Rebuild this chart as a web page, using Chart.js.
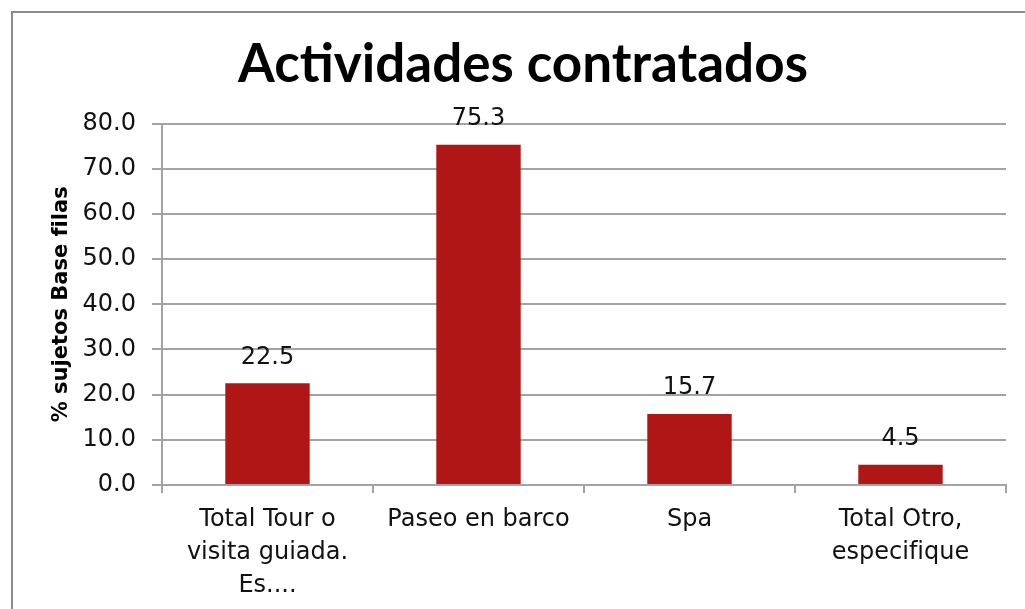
<!DOCTYPE html>
<html lang="es">
<head>
  <meta charset="UTF-8" />
  <title>Actividades contratados</title>
  <script src="https://cdn.jsdelivr.net/npm/chart.js"></script>
  <style>
    body { margin: 0; padding: 0; background: #fff; }
    .wrap { position: relative; width: 1025px; height: 609px; overflow: hidden; }
    canvas { display: block; }
  </style>
</head>
<body>
  <div class="wrap">
    <canvas id="chart" width="1025" height="609"></canvas>
  </div>
  <script>
    // Data
    const categories = [
      ['Total Tour o', 'visita guiada.', 'Es....'],
      'Paseo en barco',
      'Spa',
      ['Total Otro,', 'especifique']
    ];
    const values = [22.5, 75.3, 15.7, 4.5];
    const yTicks = [0, 10, 20, 30, 40, 50, 60, 70, 80];

    const FONT = "'DejaVu Sans', sans-serif";
    const TITLE_FONT = "Lato, 'DejaVu Sans', sans-serif";
    const GRID = '#a3a3a3';

    // outer frame of the chart (runs off the right and bottom edges)
    const framePlugin = {
      id: 'frame',
      beforeDraw(chart) {
        const ctx = chart.ctx;
        ctx.save();
        ctx.strokeStyle = '#8c8c8c';
        ctx.lineWidth = 2;
        ctx.strokeRect(12, 12, 1040, 640);
        ctx.restore();
      }
    };

    // value labels above bars
    const valueLabels = {
      id: 'valueLabels',
      afterDatasetsDraw(chart) {
        const ctx = chart.ctx;
        const meta = chart.getDatasetMeta(0);
        ctx.save();
        ctx.font = '24px ' + FONT;
        ctx.fillStyle = '#111';
        ctx.textAlign = 'center';
        ctx.textBaseline = 'bottom';
        meta.data.forEach((bar, i) => {
          ctx.fillText(values[i].toFixed(1), bar.x, bar.y - 14);
        });
        ctx.restore();
      }
    };

    new Chart(document.getElementById('chart'), {
      type: 'bar',
      data: {
        labels: categories,
        datasets: [{
          data: values,
          backgroundColor: '#b01616',
          borderWidth: 0,
          categoryPercentage: 1,
          barPercentage: 0.4
        }]
      },
      options: {
        responsive: false,
        animation: false,
        layout: { padding: { left: 40, right: 19, top: 0, bottom: 0 } },
        plugins: {
          legend: { display: false },
          tooltip: { enabled: false },
          title: {
            display: true,
            text: 'Actividades contratados',
            color: '#000',
            font: { family: TITLE_FONT, size: 53, weight: 'bold', lineHeight: 1.2 },
            padding: { top: 33, bottom: 27 }
          }
        },
        scales: {
          x: {
            afterFit: s => { s.height = 124; },
            grid: {
              offset: true,
              drawOnChartArea: false,
              drawTicks: true,
              tickLength: 8,
              color: GRID,
              lineWidth: 2
            },
            border: { color: GRID, width: 2 },
            ticks: {
              color: '#111',
              padding: 10,
              maxRotation: 0,
              font: { family: FONT, size: 24, lineHeight: 1.375 }
            }
          },
          y: {
            min: 0,
            max: 80,
            afterFit: s => { s.width = 122; },
            afterBuildTicks: s => { s.ticks = yTicks.map(v => ({ value: v })); },
            grid: {
              color: GRID,
              lineWidth: 2,
              tickLength: 10
            },
            border: { color: GRID, width: 2 },
            ticks: {
              color: '#111',
              padding: 16,
              font: { family: FONT, size: 24 },
              callback: v => Number(v).toFixed(1)
            },
            title: {
              display: true,
              text: '% sujetos Base filas',
              color: '#000',
              font: { family: FONT, size: 21, weight: 'bold', lineHeight: 1.2 },
              padding: { top: 9, bottom: 0 }
            }
          }
        }
      },
      plugins: [framePlugin, valueLabels]
    });
  </script>
</body>
</html>
